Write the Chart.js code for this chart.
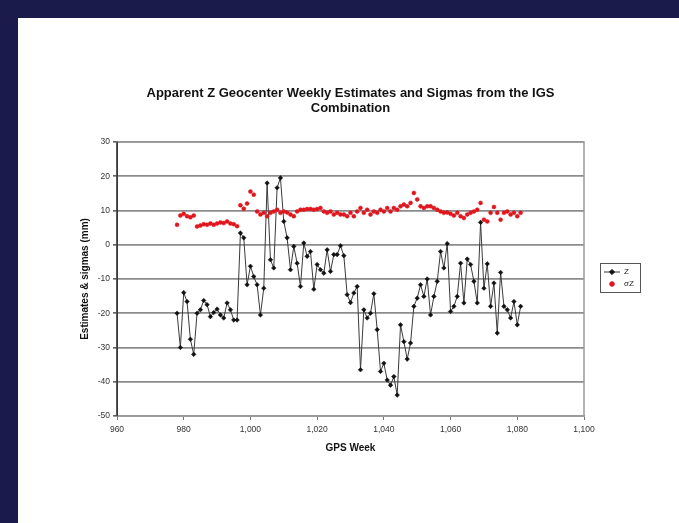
<!DOCTYPE html>
<html>
<head>
<meta charset="utf-8">
<script src="https://cdn.jsdelivr.net/npm/chart.js@4.4.1/dist/chart.umd.min.js"></script>
<style>
  html, body { margin: 0; padding: 0; background: #1b1b4b; }
  #sheet { position: absolute; left: 18px; top: 18px; right: 0; bottom: 0; background: #ffffff; }
  #c { position: absolute; left: 0; top: 0; }
</style>
</head>
<body>
<div id="sheet"></div>
<canvas id="c" width="679" height="523"></canvas>
<script>
// GPS weeks of the weekly combined solutions
const gpsWeeks = [
  978, 979, 980, 981, 982, 983, 984, 985, 986, 987,
  988, 989, 990, 991, 992, 993, 994, 995, 996, 997,
  998, 999, 1000, 1001, 1002, 1003, 1004, 1005, 1006, 1007,
  1008, 1009, 1010, 1011, 1012, 1013, 1014, 1015, 1016, 1017,
  1018, 1019, 1020, 1021, 1022, 1023, 1024, 1025, 1026, 1027,
  1028, 1029, 1030, 1031, 1032, 1033, 1034, 1035, 1036, 1037,
  1038, 1039, 1040, 1041, 1042, 1043, 1044, 1045, 1046, 1047,
  1048, 1049, 1050, 1051, 1052, 1053, 1054, 1055, 1056, 1057,
  1058, 1059, 1060, 1061, 1062, 1063, 1064, 1065, 1066, 1067,
  1068, 1069, 1070, 1071, 1072, 1073, 1074, 1075, 1076, 1077,
  1078, 1079, 1080, 1081
];

// Apparent Z geocenter estimate (mm)
const zEstimate = [
  -20, -30, -14, -16.6, -27.6, -32, -20, -19, -16.3, -17.5,
  -21, -19.8, -18.8, -20.5, -21.4, -17, -19, -22, -22, 3.4,
  2, -11.7, -6.3, -9.3, -11.7, -20.5, -12.7, 18, -4.4, -6.8,
  16.6, 19.5, 6.8, 2, -7.3, -0.5, -5.4, -12.2, 0.5, -3.4,
  -2, -13, -5.8, -7.3, -8.3, -1.5, -7.8, -2.9, -2.9, -0.3,
  -3.2, -14.6, -16.9, -14.1, -12.2, -36.5, -19, -21.4, -20, -14.3,
  -24.8, -37, -34.6, -39.5, -41, -38.5, -43.9, -23.4, -28.3, -33.4,
  -28.7, -18, -15.6, -11.7, -15.1, -10, -20.5, -15.1, -10.7, -2,
  -6.8, 0.3, -19.5, -18, -15.1, -5.4, -17, -4.2, -5.8, -10.7,
  -17, 6.5, -12.7, -5.6, -18, -11.2, -25.8, -8.1, -18, -19,
  -21.4, -16.6, -23.4, -18
];

// Formal sigma of the Z estimate (mm)
const zSigma = [
  5.8, 8.5, 9.0, 8.3, 8.0, 8.5, 5.3, 5.6, 6.0, 5.8,
  6.2, 5.8, 6.2, 6.5, 6.3, 6.8, 6.2, 6.0, 5.4, 11.5,
  10.5, 12.0, 15.5, 14.6, 9.7, 8.8, 9.3, 8.3, 9.3, 9.7,
  10.2, 9.3, 9.7, 9.4, 8.8, 8.3, 9.7, 10.2, 10.2, 10.4,
  10.4, 10.2, 10.4, 10.7, 9.7, 9.3, 9.7, 8.8, 9.3, 8.8,
  8.8, 8.3, 9.3, 8.3, 9.7, 10.7, 9.3, 10.2, 8.8, 9.7,
  9.3, 10.2, 9.7, 10.7, 9.7, 10.7, 10.2, 11.2, 11.7, 11.2,
  12.2, 15.1, 13.2, 11.2, 10.7, 11.2, 11.2, 10.7, 10.2, 9.7,
  9.3, 9.4, 9.0, 8.5, 9.3, 8.3, 7.8, 8.8, 9.3, 9.7,
  10.2, 12.2, 7.3, 6.8, 9.3, 11.0, 9.3, 7.3, 9.3, 9.7,
  8.8, 9.3, 8.3, 9.3
];

const seriesNames = ['Z', 'σZ'];
const xTickValues = [960, 980, 1000, 1020, 1040, 1060, 1080, 1100];
const yTickValues = [30, 20, 10, 0, -10, -20, -30, -40, -50];

const FONT = '"Liberation Sans", Arial, sans-serif';

const toPoints = (vals) => vals.map((v, i) => ({ x: gpsWeeks[i], y: v }));

// Frame around the plot area
const plotFrame = {
  id: 'plotFrame',
  beforeDatasetsDraw(chart) {
    const a = chart.chartArea, ctx = chart.ctx;
    ctx.save();
    ctx.strokeStyle = '#9a9a9a';
    ctx.lineWidth = 1.5;
    ctx.strokeRect(a.left, a.top, a.right - a.left, a.bottom - a.top);
    ctx.strokeStyle = '#000';
    ctx.lineWidth = 1;
    ctx.beginPath();
    ctx.moveTo(a.left, a.top);
    ctx.lineTo(a.left, a.bottom);
    ctx.stroke();
    ctx.restore();
  }
};

// Boxed legend to the right of the plot
const boxLegend = {
  id: 'boxLegend',
  afterDraw(chart) {
    const ctx = chart.ctx;
    const x0 = 600, y0 = 263, w = 40, h = 29;
    ctx.save();
    ctx.strokeStyle = '#555';
    ctx.lineWidth = 1;
    ctx.strokeRect(x0 + 0.5, y0 + 0.5, w, h);
    ctx.font = '8px ' + FONT;
    ctx.textBaseline = 'middle';
    chart.data.datasets.forEach((ds, i) => {
      const cy = y0 + 9 + i * 12;
      if (ds.showLine) {
        ctx.strokeStyle = ds.borderColor;
        ctx.lineWidth = 1;
        ctx.beginPath();
        ctx.moveTo(x0 + 4, cy);
        ctx.lineTo(x0 + 20, cy);
        ctx.stroke();
      }
      ctx.fillStyle = ds.pointBackgroundColor;
      ctx.strokeStyle = ds.pointBorderColor;
      Chart.helpers.drawPoint(ctx, { pointStyle: ds.pointStyle, radius: ds.pointRadius + 0.3, borderWidth: 1, rotation: 0 }, x0 + 12, cy);
      ctx.fillStyle = '#222';
      ctx.fillText(ds.label, x0 + 24, cy);
    });
    ctx.restore();
  }
};

new Chart(document.getElementById('c'), {
  type: 'scatter',
  data: {
    datasets: [
      {
        label: seriesNames[0],
        data: toPoints(zEstimate),
        showLine: true,
        borderColor: '#3a3a3a',
        borderWidth: 1,
        pointStyle: 'rectRot',
        pointRadius: 2.3,
        pointBackgroundColor: '#111',
        pointBorderColor: '#111',
        pointBorderWidth: 0.5,
        order: 1
      },
      {
        label: seriesNames[1],
        data: toPoints(zSigma),
        showLine: false,
        pointStyle: 'circle',
        pointRadius: 2,
        pointBackgroundColor: '#e0161e',
        pointBorderColor: '#e0161e',
        pointBorderWidth: 0.5,
        order: 0
      }
    ]
  },
  options: {
    responsive: false,
    animation: false,
    events: [],
    layout: { padding: { left: 79, right: 95, top: 86, bottom: 69 } },
    plugins: {
      legend: { display: false },
      tooltip: { enabled: false },
      title: {
        display: true,
        fullSize: false,
        text: ['Apparent Z Geocenter Weekly Estimates and Sigmas from the IGS', 'Combination'],
        color: '#111',
        font: { family: FONT, size: 13, weight: 'bold', lineHeight: 1.15 },
        padding: { top: 0, bottom: 26 }
      }
    },
    scales: {
      x: {
        type: 'linear',
        min: 960,
        max: 1100,
        afterBuildTicks(scale) { scale.ticks = xTickValues.map(v => ({ value: v })); },
        afterFit(scale) { scale.height = 38; },
        border: { display: true, color: '#9a9a9a', width: 1.5 },
        grid: { drawOnChartArea: false, drawTicks: true, tickLength: 4, color: '#777', tickColor: '#777' },
        ticks: { color: '#333', font: { family: FONT, size: 8.5 }, padding: 5, maxRotation: 0 },
        title: { display: true, text: 'GPS Week', color: '#111', font: { family: FONT, size: 10, weight: 'bold' }, padding: { top: 4, bottom: 0 } }
      },
      y: {
        type: 'linear',
        min: -50,
        max: 30,
        afterBuildTicks(scale) { scale.ticks = yTickValues.map(v => ({ value: v })); },
        afterFit(scale) { scale.width = 38; },
        border: { display: true, color: '#000', width: 1 },
        grid: { color: '#8c8c8c', lineWidth: 1.8, tickLength: 4, tickColor: '#000', tickWidth: 1 },
        ticks: { color: '#333', font: { family: FONT, size: 8.5 }, padding: 3 },
        title: { display: true, text: 'Estimates & sigmas (mm)', color: '#111', font: { family: FONT, size: 10, weight: 'bold' }, padding: { top: 0, bottom: 2 } }
      }
    }
  },
  plugins: [plotFrame, boxLegend]
});
</script>
</body>
</html>
